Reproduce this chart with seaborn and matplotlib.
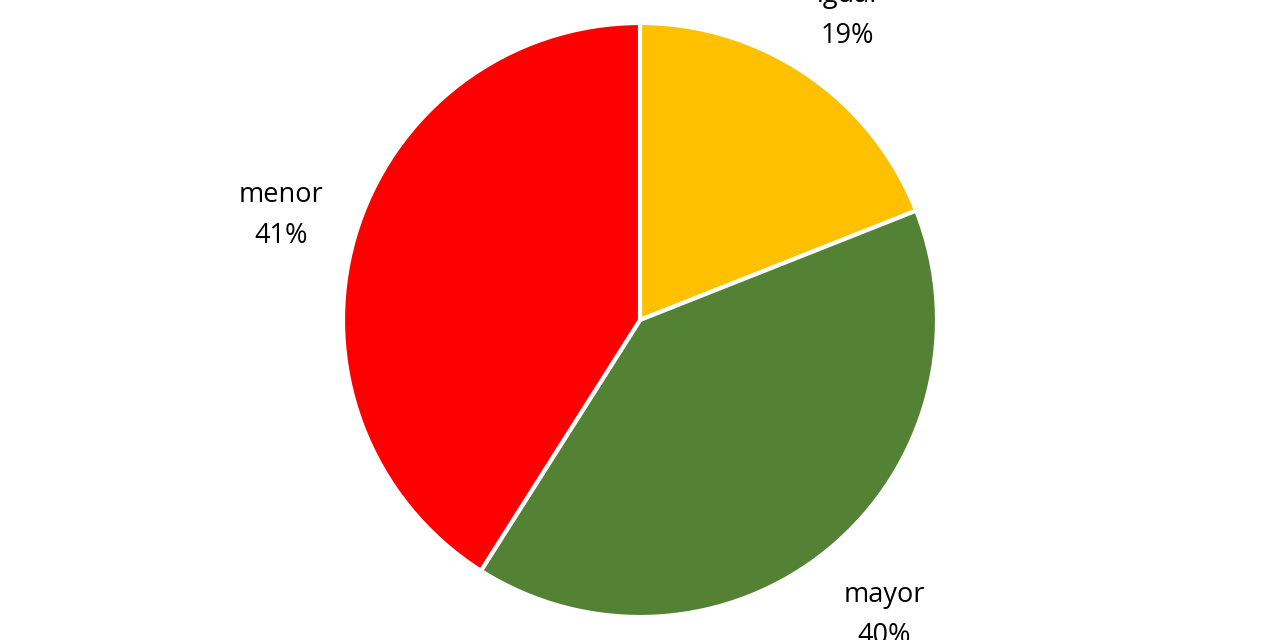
import matplotlib
matplotlib.use("Agg")
import matplotlib.pyplot as plt
import seaborn as sns
import numpy as np

# DATA
categories = ["igual", "mayor", "menor"]
values = [19, 40, 41]
colors = ["#FFC000", "#548235", "#FF0000"]

# label distance from centre (radius units), per slice
label_dist = [1.24, 1.29, 1.26]

# STYLE
sns.set_theme(style="white")
plt.rcParams['font.family'] = ['Open Sans', 'DejaVu Sans']

fig = plt.figure(figsize=(12.8, 6.4), dpi=100)
ax = fig.add_axes([0, 0, 1, 1])

labels = [f"{c}\n{v}%" for c, v in zip(categories, values)]

wedges, texts = ax.pie(
    values,
    labels=labels,
    colors=colors,
    startangle=90,
    counterclock=False,
    radius=1.0,
    labeldistance=1.26,
    wedgeprops=dict(edgecolor="white", linewidth=3),
    textprops=dict(fontsize=19.5, color="black", ha="center", va="center",
                   linespacing=1.6),
)

# place each label along its slice's mid angle
for w, t, d in zip(wedges, texts, label_dist):
    ang = np.deg2rad((w.theta1 + w.theta2) / 2)
    t.set_position((d * np.cos(ang), d * np.sin(ang)))
    t.set_horizontalalignment("center")

ax.set_aspect("equal")
ax.set_ylim(-320 / 297, 320 / 297)
ax.set_xlim(-640 / 297, 640 / 297)
ax.axis("off")

fig.savefig("out.png", dpi=100, facecolor="white")
plt.close(fig)
